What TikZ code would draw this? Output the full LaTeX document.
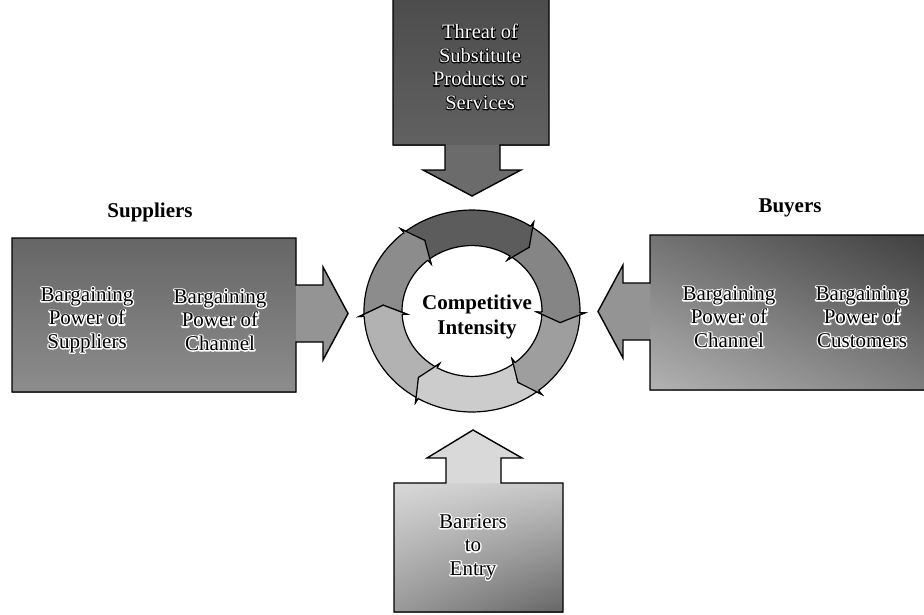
\documentclass[tikz,border=0pt]{standalone}
\usepackage{fontspec}
\usetikzlibrary{shadings}
\setmainfont{Liberation Serif}
% text set twice: a stroked copy (grey level #1, width #2) behind the filled letters
\newcommand\haloed[3]{%
  \leavevmode
  \rlap{\special{pdf:literal direct #1 G #2 w 1 j 1 Tr}#3\special{pdf:literal direct 0 Tr}}%
  #3}
\newcommand\onlight[1]{\haloed{1}{2.6}{#1}}
\newcommand\ondark[1]{\haloed{0}{1.8}{#1}}
\begin{document}
\begin{tikzpicture}[x=1pt,y=-1pt,
  edge/.style={draw=black, line width=1.4pt, line join=miter},
  ringline/.style={draw=black, line width=1.2pt, line join=miter},
  heading/.style={inner sep=0pt, font=\fontsize{21}{25}\selectfont\bfseries},
  boxtext/.style={align=center, inner sep=0pt, font=\fontsize{21}{23.5}\selectfont},
  boxtextd/.style={align=center, inner sep=0pt, text=white, font=\fontsize{20.5}{23.5}\selectfont},
]
\useasboundingbox (0,0) rectangle (924,614);

% ---- left block: suppliers ----
\shade[top color=black!60, bottom color=black!45]
  (12,238) rectangle (296,392);
\fill[black!42] (296,285) -- (323,285) -- (323,267) -- (348,313.5)
  -- (323,360) -- (323,342) -- (296,342) -- cycle;
\draw[edge] (12,238) -- (296,238) -- (296,285) -- (323,285) -- (323,267)
  -- (348,313.5) -- (323,360) -- (323,342) -- (296,342) -- (296,392)
  -- (12,392) -- cycle;

% ---- right block: buyers ----
\shade[upper right=black!75, upper left=black!55, lower right=black!50, lower left=black!30]
  (650,235) rectangle (926,390);
\fill[black!42] (650,283) -- (623,283) -- (623,265) -- (598,311.5)
  -- (623,358) -- (623,340) -- (650,340) -- cycle;
\draw[edge] (926,235) -- (650,235) -- (650,283) -- (623,283) -- (623,265)
  -- (598,311.5) -- (623,358) -- (623,340) -- (650,340) -- (650,390)
  -- (926,390);

% ---- top block: substitutes ----
\shade[top color=black!70, bottom color=black!62] (393,-2) rectangle (549,145);
\fill[black!58] (445,145) -- (445,170) -- (423,170) -- (472,196)
  -- (521,170) -- (500,170) -- (500,145) -- cycle;
\draw[edge] (393,-2) -- (393,145) -- (445,145) -- (445,170) -- (423,170)
  -- (472,196) -- (521,170) -- (500,170) -- (500,145) -- (549,145)
  -- (549,-2);

% ---- bottom block: entry barriers ----
\shade[upper left=black!15, upper right=black!22, lower left=black!40, lower right=black!60]
  (394,483) rectangle (563,612);
\fill[black!15] (446,483) -- (446,458) -- (427,458) -- (473,430)
  -- (522,458) -- (501,458) -- (501,483) -- cycle;
\draw[edge] (394,612) -- (394,483) -- (446,483) -- (446,458) -- (427,458)
  -- (473,430) -- (522,458) -- (501,458) -- (501,483) -- (563,483)
  -- (563,612) -- cycle;

% ---- ring of clockwise arrows ----
\begin{scope}[shift={(472,311)}, x=1pt, y=0.935pt]
  \foreach \a/\b/\col in {183/129/black!45, 129/57/black!64, 57/-1/black!48,
                          -1/-52/black!38, -52/-120/black!20, -120/-177/black!30} {
    \filldraw[ringline, fill=\col]
      (\a:108) arc[start angle=\a, end angle=\b, radius=108]
      -- (\b:113) -- ({\b-7}:89) -- (\b:65) -- (\b:70)
      arc[start angle=\b, end angle=\a, radius=70]
      -- ({\a-7}:89) -- cycle;
  }
  \foreach \a/\b/\col in {183/129/black!45, 129/57/black!64, 57/-1/black!48,
                          -1/-52/black!38, -52/-120/black!20, -120/-177/black!30} {
    \fill[\col] (\b:113) -- ({\b-7}:89) -- (\b:65) -- cycle;
    \draw[ringline] (\b:108) -- (\b:113) -- ({\b-7}:89) -- (\b:65) -- (\b:70);
  }
\end{scope}

% ---- labels ----
\node[heading] (suppliers) at (150,212) {Suppliers};
\node[heading] (buyers) at (790,208) {Buyers};
\node[heading, align=center] (core) at (477,317) {Competitive\\Intensity};

\node[boxtext] (bpsup) at (87,320)
  {\onlight{Bargaining}\\\onlight{Power of}\\\onlight{Suppliers}};
\node[boxtext] (bpchl) at (220,320)
  {\onlight{Bargaining}\\\onlight{Power of}\\\onlight{Channel}};
\node[boxtext] (bpchr) at (729,317)
  {\onlight{Bargaining}\\\onlight{Power of}\\\onlight{Channel}};
\node[boxtext] (bpcus) at (862,317)
  {\onlight{Bargaining}\\\onlight{Power of}\\\onlight{Customers}};
\node[boxtext] (entry) at (473,547)
  {\onlight{Barriers}\\\onlight{to}\\\onlight{Entry}};
\node[boxtextd] (subst) at (480,67)
  {\ondark{Threat of}\\\ondark{Substitute}\\\ondark{Products or}\\\ondark{Services}};
\end{tikzpicture}
\end{document}
